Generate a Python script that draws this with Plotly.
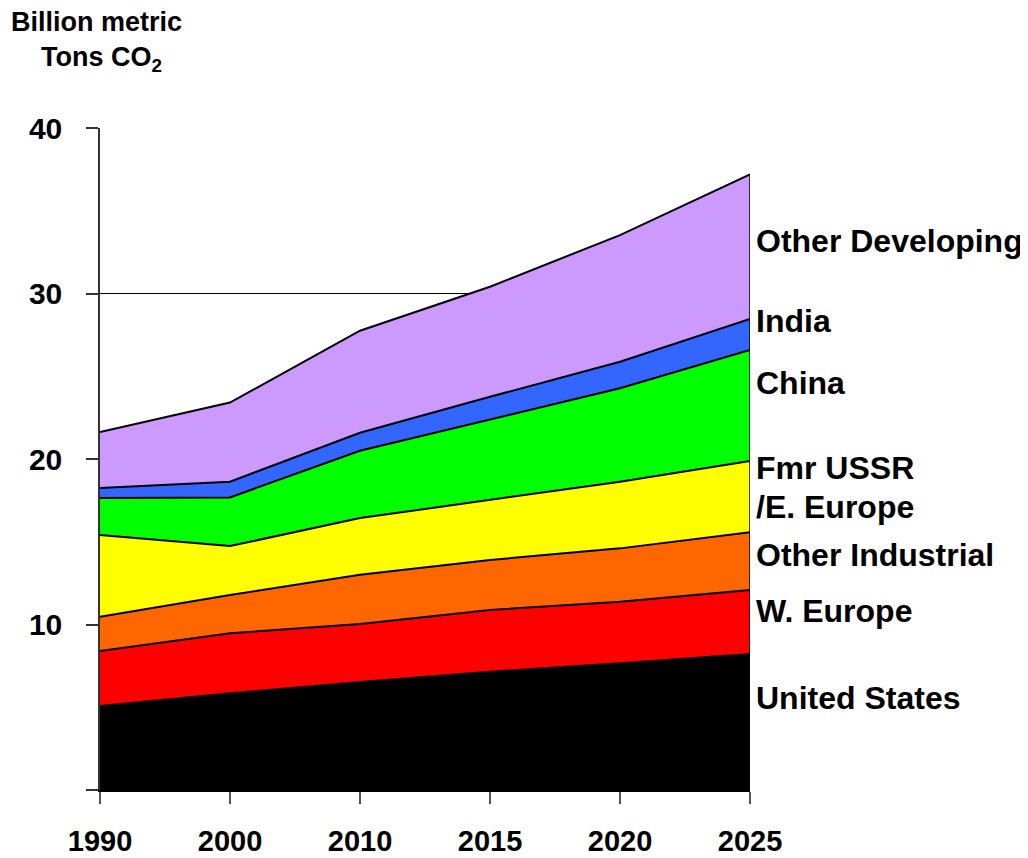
import plotly.graph_objects as go

years = ["1990", "2000", "2010", "2015", "2020", "2025"]

us = [5.08, 5.84, 6.53, 7.15, 7.66, 8.22]
w_europe = [3.32, 3.63, 3.50, 3.73, 3.72, 3.86]
other_industrial = [2.07, 2.31, 2.97, 3.02, 3.22, 3.49]
fsu_ee = [4.94, 2.96, 3.43, 3.62, 4.03, 4.31]
china = [2.23, 2.94, 4.07, 4.88, 5.64, 6.71]
india = [0.61, 0.95, 1.09, 1.36, 1.61, 1.87]
other_developing = [3.38, 4.78, 6.16, 6.65, 7.65, 8.74]

series = [
    ("United States", us, "#000000"),
    ("W. Europe", w_europe, "#FF0000"),
    ("Other Industrial", other_industrial, "#FF6600"),
    ("Fmr USSR /E. Europe", fsu_ee, "#FFFF00"),
    ("China", china, "#00FF00"),
    ("India", india, "#3366FF"),
    ("Other Developing", other_developing, "#CC99FF"),
]

y_ticks = [10, 20, 30, 40]
y_tick_text = ["10", "20", "30", "40"]
y_unlabelled_ticks = [0]

# label texts and y positions (data units) for the right-hand labels
right_labels = [
    ("Other Developing", 33.2),
    ("India", 28.35),
    ("China", 24.6),
    ("Fmr USSR", 19.45),
    ("/E. Europe", 17.1),
    ("Other Industrial", 14.2),
    ("W. Europe", 10.8),
    ("United States", 5.55),
]

fig = go.Figure()
for name, vals, color in series:
    fig.add_trace(go.Scatter(
        x=years, y=vals, name=name, mode="lines",
        stackgroup="one", fillcolor=color,
        line=dict(color="#000000", width=2),
    ))

total = [sum(v) for v in zip(*[s[1] for s in series])]
fig.add_trace(go.Scatter(
    x=[years[-1], years[-1]], y=[0, total[-1]], mode="lines",
    line=dict(color="#000000", width=1.5), showlegend=False,
))

font_family = "Arial, Liberation Sans, sans-serif"

# page has an 8px body margin: figure is drawn from (8, 8)
OFF = 8
W, H = 1028 - OFF, 858 - OFF
l, r, t, b = 100 - OFF, 278, 128 - OFF, 68
pw, ph = W - l - r, H - t - b

fig.update_layout(
    width=W, height=H,
    margin=dict(l=l, r=r, t=t, b=b, autoexpand=False),
    paper_bgcolor="white", plot_bgcolor="white",
    showlegend=False,
    font=dict(family=font_family, color="black"),
    xaxis=dict(
        type="category", range=[0, 5], automargin=False,
        showgrid=False, zeroline=False,
        showline=True, linecolor="#000000", linewidth=1.5,
        ticks="outside", ticklen=12, tickcolor="#555555", tickwidth=1.5,
        tickfont=dict(size=29, family=font_family, color="black", weight="bold"),
        ticklabelstandoff=12,
    ),
    yaxis=dict(
        range=[0, 40], automargin=False,
        tickvals=y_ticks, ticktext=y_tick_text,
        showgrid=True, gridcolor="#000000", gridwidth=1,
        zeroline=False,
        showline=True, linecolor="#333333", linewidth=1.5,
        ticks="outside", ticklen=12, tickcolor="#333333", tickwidth=1.5,
        tickfont=dict(size=30, family=font_family, color="black", weight="bold"),
        ticklabelstandoff=18,
        minor=dict(tickvals=y_unlabelled_ticks, ticks="outside", ticklen=12,
                   tickcolor="#333333", tickwidth=1.5, showgrid=False),
    ),
)

for text, yv in right_labels:
    fig.add_annotation(
        x=1, xref="paper", y=yv, yref="y", text=text,
        xanchor="left", yanchor="middle", xshift=4, showarrow=False,
        font=dict(size=32, family=font_family, color="black", weight="bold"),
    )

# title lines, positioned by page pixels (left edge, vertical centre)
titles = [("Billion metric", 9, 22), ("Tons CO<sub>2</sub>", 39, 59)]
for text, px, py in titles:
    fig.add_annotation(
        x=(px - OFF - l) / pw, xref="paper",
        y=(H - b - (py - OFF)) / ph, yref="paper",
        text=text, showarrow=False, xanchor="left", yanchor="middle",
        font=dict(size=27, family=font_family, color="black", weight="bold"),
    )

fig.write_html("out.html")
